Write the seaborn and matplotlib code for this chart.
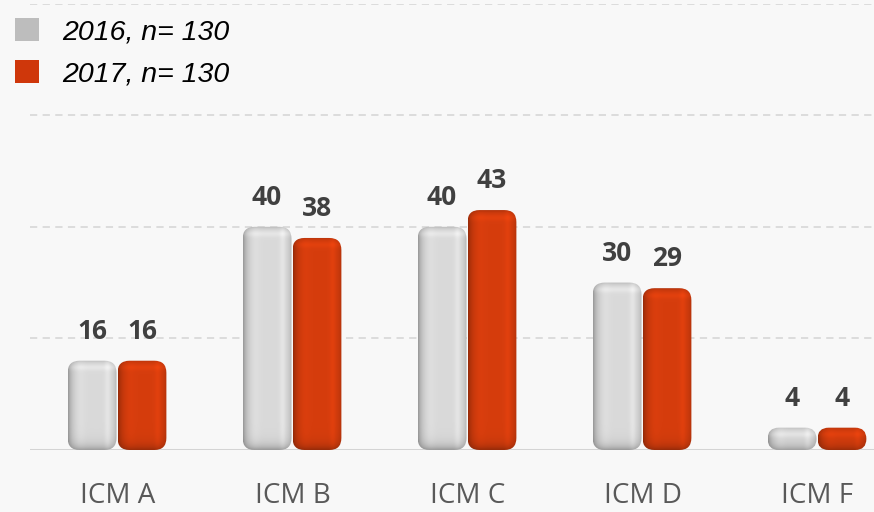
import numpy as np
import pandas as pd
import matplotlib
matplotlib.use("Agg")
import matplotlib.pyplot as plt
import seaborn as sns
from matplotlib.patches import FancyBboxPatch, Patch
from matplotlib.colors import to_rgb

categories = ["ICM A", "ICM B", "ICM C", "ICM D", "ICM F"]
series_names = ["2016, n= 130", "2017, n= 130"]
values_2016 = [16, 40, 40, 30, 4]
values_2017 = [16, 38, 43, 29, 4]
colors = ["#dadada", "#d63d0d"]

df = pd.DataFrame({
    "cat": categories * 2,
    "series": [series_names[0]] * 5 + [series_names[1]] * 5,
    "value": values_2016 + values_2017,
})

sns.set_theme(style="white")
plt.rcParams["font.family"] = ["Liberation Sans", "DejaVu Sans"]

W, H = 874, 512
fig = plt.figure(figsize=(W / 100, H / 100), dpi=100, facecolor="#f8f8f8")
ax_left, ax_right = 30, 874
ax_bottom, ax_top = 450, 3.6
ax = fig.add_axes([ax_left / W, (H - ax_bottom) / H, (ax_right - ax_left) / W, (ax_bottom - ax_top) / H])
ax.set_facecolor("#f8f8f8")

sns.barplot(data=df, x="cat", y="value", hue="series", palette=colors,
            width=0.57, gap=0, ax=ax, legend=False, saturation=1)

ax.set_ylim(0, 80)
ax.set_xlim(-0.5, -0.5 + (ax_right - ax_left) / 175)
ax.set_yticks([20, 40, 60, 80])
ax.yaxis.grid(True, color="#d9d9d9", linestyle=(0, (4, 3)), linewidth=1.3)
ax.set_axisbelow(True)
for s in ax.spines.values():
    s.set_visible(False)
ax.tick_params(axis="y", left=False, labelleft=False)
ax.tick_params(axis="x", bottom=False, pad=17, labelsize=20, labelcolor="#595959")
ax.set_xlabel("")
ax.set_ylabel("")
for t in ax.get_xticklabels():
    t.set_family(["Open Sans", "DejaVu Sans"])
ax.axhline(0, color="#d4d4d4", linewidth=2.2, zorder=1)

fig.canvas.draw()
px_per_x = (ax_right - ax_left) / (ax.get_xlim()[1] - ax.get_xlim()[0])
px_per_y = (ax_bottom - ax_top) / 80.0

bars = list(ax.patches)
for p in bars:
    x0, y0 = p.get_x(), p.get_y()
    w, h = p.get_width(), p.get_height()
    fc = np.array(to_rgb(p.get_facecolor()))
    p.set_visible(False)
    w -= 1.0 / px_per_x
    hp = h * px_per_y
    wp = w * px_per_x
    r_px = min(12.0, hp / 2.0, wp / 2.0)
    rx = r_px / px_per_x
    aspect = px_per_x / px_per_y
    patch = FancyBboxPatch((x0 + rx, y0 + rx * aspect), w - 2 * rx, h - 2 * rx * aspect,
                           boxstyle=f"round,pad={rx},rounding_size={rx}",
                           mutation_aspect=aspect,
                           transform=ax.transData, facecolor="none", edgecolor="none", zorder=3)
    ax.add_patch(patch)
    nx, ny = 80, 160
    xpix = np.linspace(0, wp, nx)
    ypix = np.linspace(0, hp, ny)
    dl, dr = xpix, wp - xpix
    hx = (1 - 0.30 * np.exp(-dl / 4.0) - 0.18 * np.exp(-dr / 3.0)
          + 0.06 * np.exp(-((dr - 9) / 3.0) ** 2) + 0.03 * np.exp(-((dl - 12) / 5.0) ** 2))
    db, dt = ypix, hp - ypix
    vy = (1 - 0.28 * np.exp(-db / 5.0) + 0.06 * np.exp(-((dt - 7) / 3.0) ** 2)
          - 0.15 * np.exp(-dt / 2.0))
    shade = np.outer(vy, hx)
    img = np.clip(fc[None, None, :] * shade[:, :, None], 0, 1)
    im = ax.imshow(img, extent=(x0, x0 + w, y0, y0 + h), origin="lower",
                   aspect="auto", zorder=3, interpolation="bilinear")
    im.set_clip_path(patch)
    ax.text(x0 + w / 2, y0 + h + 16 / px_per_y, f"{int(round(h))}", ha="center", va="bottom",
            fontsize=19, fontweight="bold", color="#404040",
            family=["Open Sans", "DejaVu Sans"], zorder=4)

ax.set_xlim(-0.5, -0.5 + (ax_right - ax_left) / 175)
ax.set_ylim(0, 80)

handles = [Patch(facecolor=c, edgecolor="none") for c in ["#bdbdbd", "#cf370b"]]
leg = fig.legend(handles, series_names, loc="upper left", bbox_to_anchor=(-0.012, 1.014),
                 frameon=False, handlelength=0.85, handleheight=0.85, handletextpad=0.8,
                 labelspacing=0.52, labelcolor="black",
                 prop={"style": "italic", "size": 20.5, "family": "Liberation Sans"})

fig.savefig("out.png", dpi=100, facecolor=fig.get_facecolor())
